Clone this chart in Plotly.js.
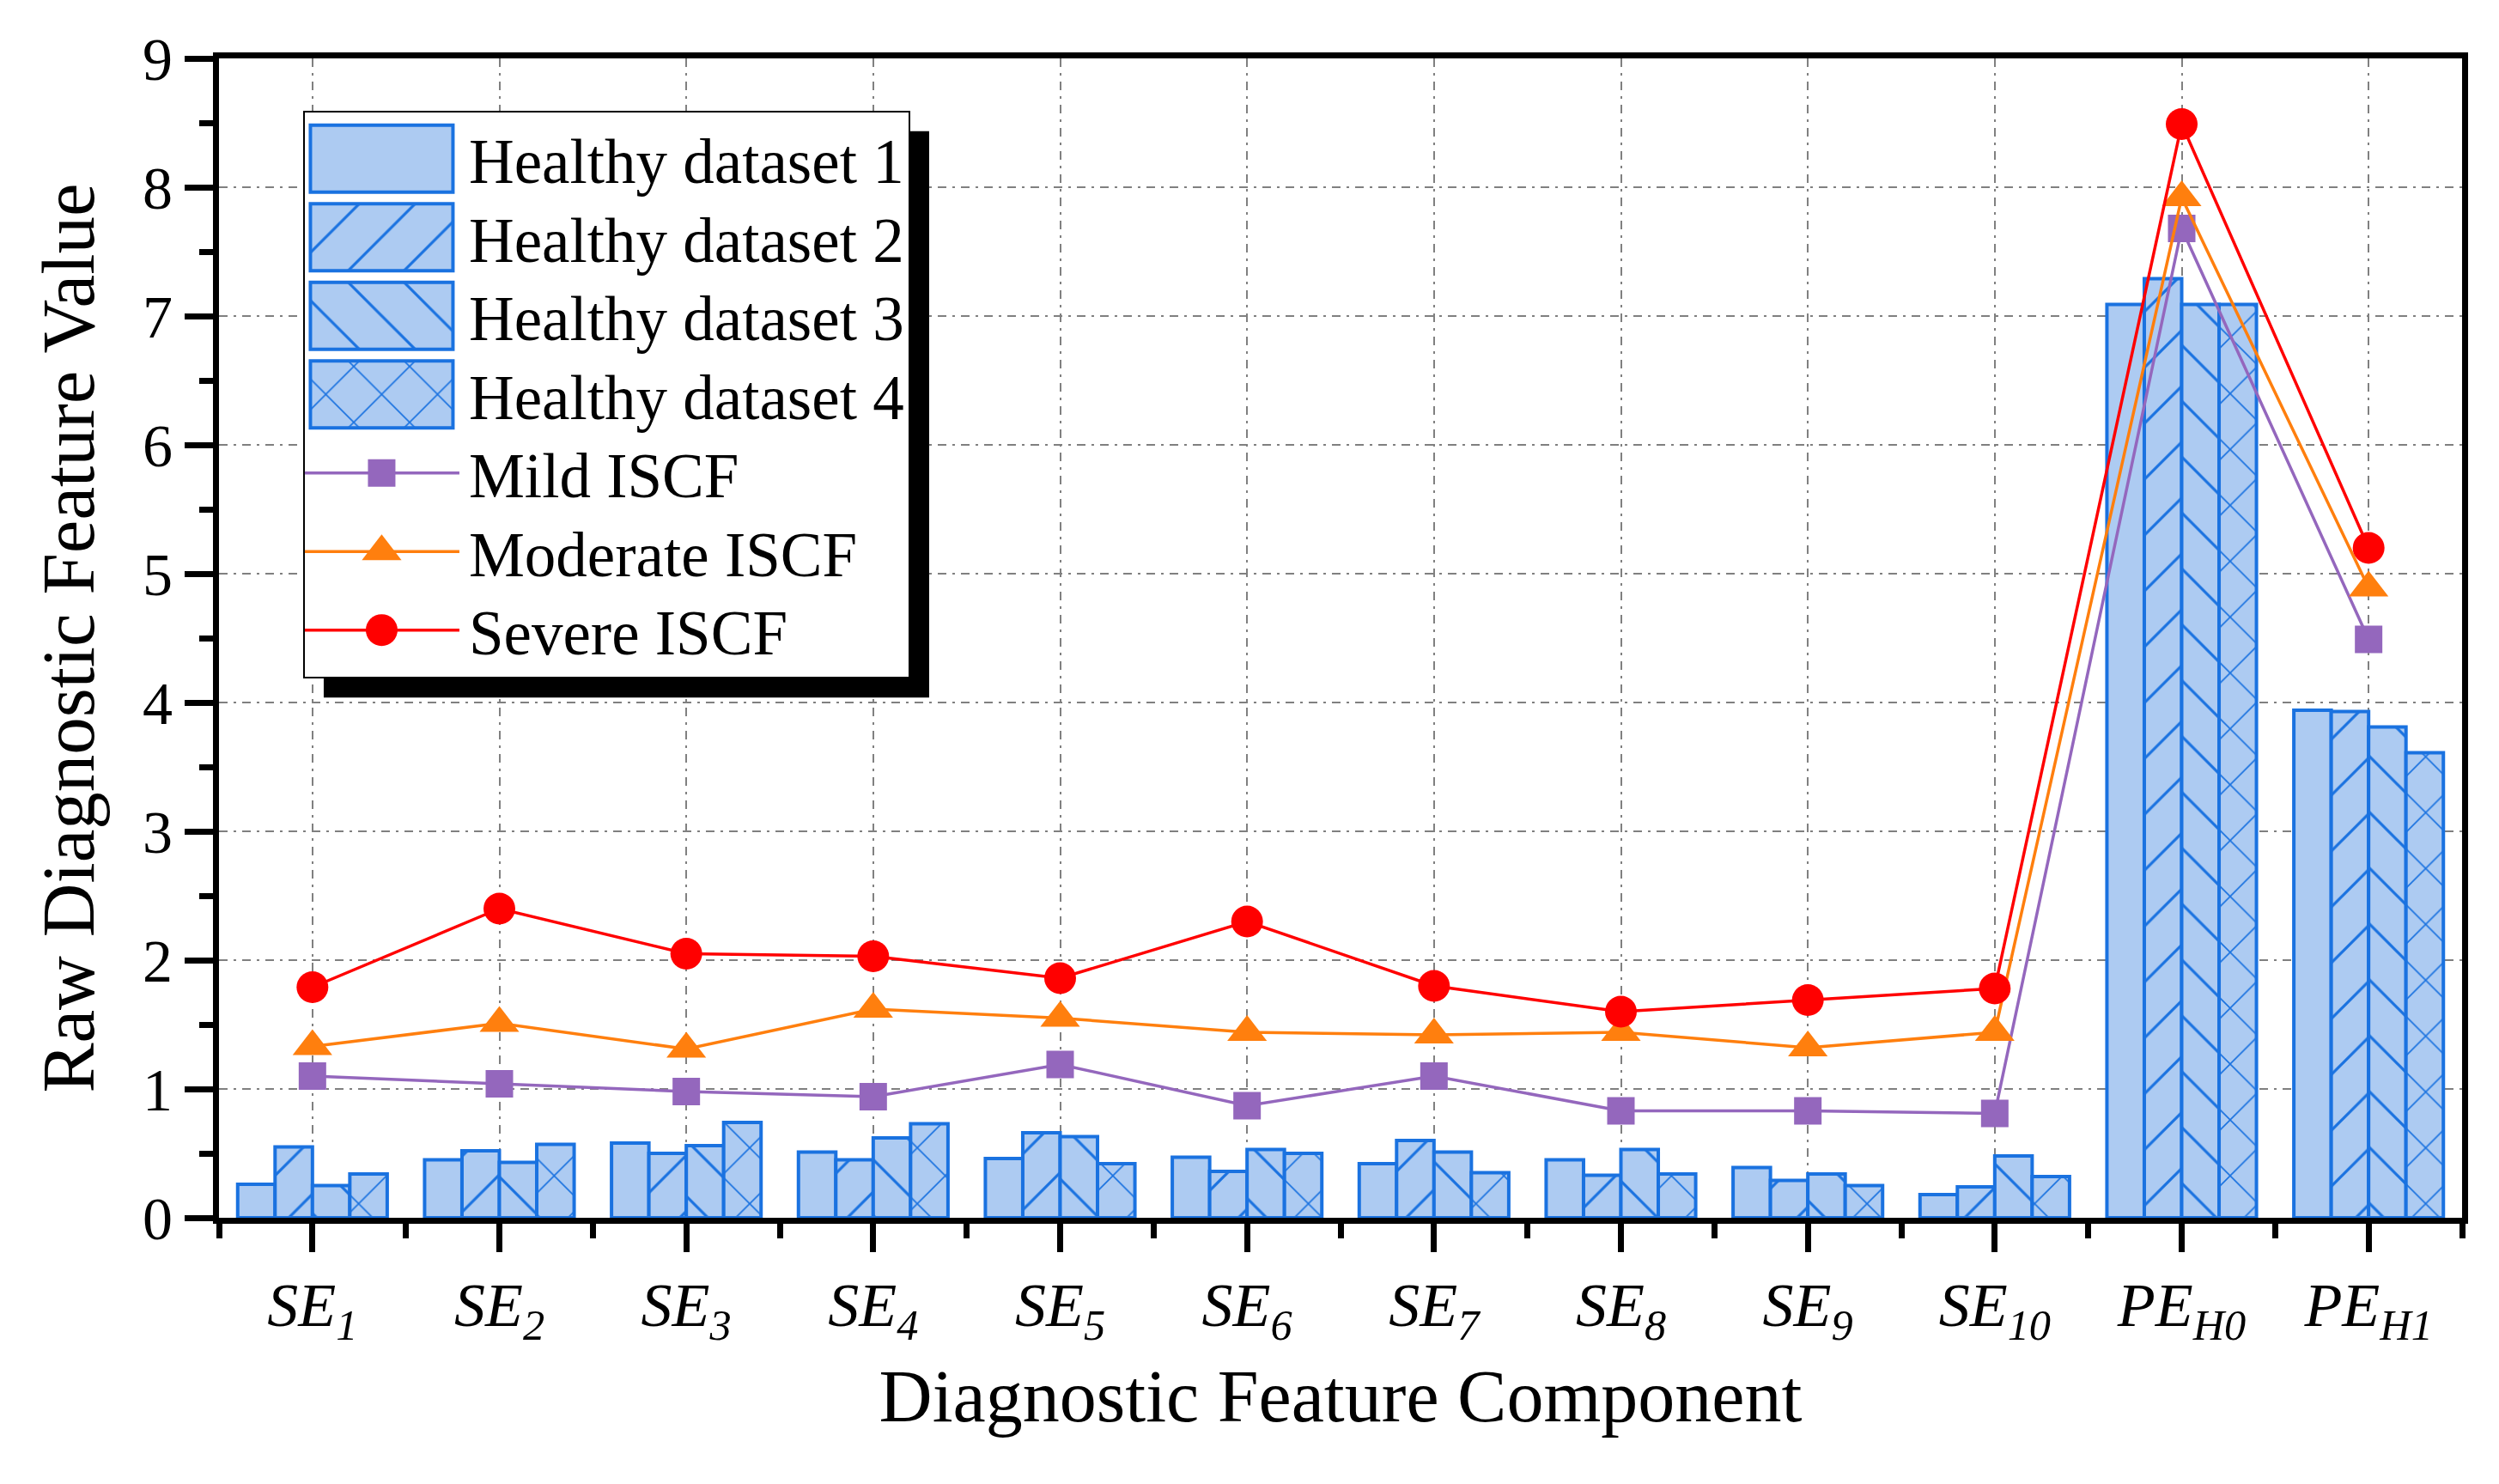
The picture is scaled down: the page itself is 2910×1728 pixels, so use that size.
<!DOCTYPE html>
<html>
<head>
<meta charset="utf-8">
<script src="https://cdn.plot.ly/plotly-3.0.1.min.js"></script>
<style>html,body{margin:0;padding:0;background:#fff}</style>
</head>
<body>
<div id="chart" style="width:2910px;height:1728px"></div>
<script>
// feature components (x axis)
var categories = ['SE1', 'SE2', 'SE3', 'SE4', 'SE5', 'SE6', 'SE7', 'SE8', 'SE9', 'SE10', 'PEH0', 'PEH1'];
var tickLabels = ['<i>SE<sub>1</sub></i>', '<i>SE<sub>2</sub></i>', '<i>SE<sub>3</sub></i>', '<i>SE<sub>4</sub></i>',
    '<i>SE<sub>5</sub></i>', '<i>SE<sub>6</sub></i>', '<i>SE<sub>7</sub></i>', '<i>SE<sub>8</sub></i>',
    '<i>SE<sub>9</sub></i>', '<i>SE<sub>10</sub></i>', '<i>PE<sub>H0</sub></i>', '<i>PE<sub>H1</sub></i>'];

// healthy datasets (bars)
var healthy1 = [0.26, 0.45, 0.58, 0.51, 0.46, 0.47, 0.42, 0.45, 0.39, 0.18, 7.09, 3.94];
var healthy2 = [0.55, 0.52, 0.50, 0.45, 0.66, 0.36, 0.60, 0.33, 0.29, 0.24, 7.29, 3.93];
var healthy3 = [0.25, 0.43, 0.56, 0.62, 0.63, 0.53, 0.51, 0.53, 0.34, 0.48, 7.09, 3.81];
var healthy4 = [0.34, 0.57, 0.74, 0.73, 0.42, 0.50, 0.35, 0.34, 0.25, 0.32, 7.09, 3.61];

// fault levels (lines)
var mild = [1.10, 1.04, 0.98, 0.94, 1.19, 0.87, 1.10, 0.83, 0.83, 0.81, 7.68, 4.49];
var moderate = [1.33, 1.51, 1.31, 1.62, 1.55, 1.44, 1.42, 1.44, 1.32, 1.44, 7.92, 4.89];
var severe = [1.79, 2.40, 2.05, 2.03, 1.86, 2.30, 1.80, 1.60, 1.69, 1.78, 8.49, 5.20];

var xPos = categories.map(function (c, i) { return i + 1; });

var barFill = '#adcbf2';
var barLine = '#1a72e0';
var font = '"Liberation Serif", "Times New Roman", serif';

function barTrace(name, values, shape) {
    return {
        x: xPos,
        y: values,
        name: name,
        type: 'bar',
        marker: {
            color: barFill,
            line: {color: barLine, width: 4},
            pattern: {shape: shape, fgcolor: barLine, bgcolor: barFill, size: 46, solidity: 0.07}
        }
    };
}

function lineTrace(name, values, color, symbol, size) {
    return {
        x: xPos,
        y: values,
        name: name,
        type: 'scatter',
        mode: 'lines+markers',
        line: {color: color, width: 3.5},
        marker: {color: color, symbol: symbol, size: size}
    };
}

var data = [
    barTrace('Healthy dataset 1', healthy1, ''),
    barTrace('Healthy dataset 2', healthy2, '/'),
    barTrace('Healthy dataset 3', healthy3, '\\'),
    barTrace('Healthy dataset 4', healthy4, 'x'),
    lineTrace('Mild ISCF', mild, '#9467bd', 'square', 32),
    lineTrace('Moderate ISCF', moderate, '#ff7f0e', 'triangle-up', 40),
    lineTrace('Severe ISCF', severe, '#ff0000', 'circle', 37)
];

var gridDash = '10px,7px,3px,7px';
var margin = {l: 255, r: 43, t: 68, b: 310};
var rowStep = 91.5;   // legend row spacing in px

var layout = {
    width: 2910,
    height: 1728,
    margin: margin,
    paper_bgcolor: '#fff',
    plot_bgcolor: '#fff',
    font: {family: font, color: '#000'},
    barmode: 'group',
    bargap: 0.2,
    bargroupgap: 0,
    showlegend: true,
    legend: {
        x: 0.0375, y: 0.955, xanchor: 'left', yanchor: 'top',
        bgcolor: '#fff', bordercolor: '#000', borderwidth: 2,
        font: {family: font, size: 73, color: '#000'},
        itemwidth: 181
    },
    xaxis: {
        range: [0.5, 12.5],
        tickmode: 'array',
        tickvals: xPos,
        ticktext: tickLabels,
        tickfont: {family: font, size: 72},
        ticks: 'outside', ticklen: 33, tickwidth: 7, tickcolor: '#000',
        minor: {tick0: 0.5, dtick: 1, ticks: 'outside', ticklen: 17, tickwidth: 7, tickcolor: '#000', showgrid: false},
        showline: true, linewidth: 7, linecolor: '#000', mirror: true,
        showgrid: true, gridcolor: '#808080', gridwidth: 2, griddash: gridDash,
        zeroline: false,
        title: {text: 'Diagnostic Feature Component', font: {family: font, size: 86}, standoff: 28}
    },
    yaxis: {
        range: [0, 9],
        dtick: 1,
        tickfont: {family: font, size: 70},
        ticks: 'outside', ticklen: 33, tickwidth: 7, tickcolor: '#000',
        minor: {dtick: 0.5, ticks: 'outside', ticklen: 16, tickwidth: 7, tickcolor: '#000', showgrid: false},
        showline: true, linewidth: 7, linecolor: '#000', mirror: true,
        showgrid: true, gridcolor: '#808080', gridwidth: 2, griddash: gridDash,
        zeroline: false,
        title: {text: 'Raw Diagnostic Feature Value', font: {family: font, size: 87}, standoff: 30}
    }
};

function readTranslate(el) {
    var m = /translate\(\s*([-\d.]+)[ ,]*([-\d.]*)/.exec(el.getAttribute('transform') || '');
    return m ? [parseFloat(m[1]), parseFloat(m[2] || 0)] : [0, 0];
}

// legend rows are a bit tighter than plotly's default line height
function legendShrink(gd) {
    var items = gd.querySelectorAll('.legend .traces');
    var first = readTranslate(items[0])[1];
    var last = readTranslate(items[items.length - 1])[1];
    var step = (last - first) / (items.length - 1);
    return {first: first, f: rowStep / step, cut: (step - rowStep) * (items.length - 1)};
}

// make legend swatches look like the big Origin-style ones
function styleLegend(gd, shrink) {
    var items = gd.querySelectorAll('.legend .traces');
    var barTraces = gd.querySelectorAll('.barlayer .trace');
    var bg = gd.querySelector('.legend rect.bg');
    bg.setAttribute('height', parseFloat(bg.getAttribute('height')) - shrink.cut);
    items.forEach(function (item, i) {
        var tr = readTranslate(item);
        item.setAttribute('transform', 'translate(' + tr[0] + ',' + (shrink.first + (tr[1] - shrink.first) * shrink.f) + ')');
        var trace = gd._fullData[i];
        var layers = item.querySelector('g.layers');
        if (layers) layers.setAttribute('transform', 'translate(-6,0)');
        if (trace.type === 'bar') {
            item.querySelectorAll('.legendpoints path').forEach(function (p) {
                p.setAttribute('d', 'M83,39H-83V-39H83Z');
                var mainBar = barTraces[i] && barTraces[i].querySelector('path');
                if (mainBar && mainBar.style.fill) p.style.fill = mainBar.style.fill;
                p.style.strokeWidth = '4px';
            });
        } else {
            var k = trace.marker.size / 16;
            item.querySelectorAll('.legendpoints path.scatterpts').forEach(function (p) {
                var t = p.getAttribute('transform') || '';
                p.setAttribute('transform', t + ' scale(' + k + ')');
            });
        }
    });
}

var shrink;
Plotly.newPlot('chart', data, layout, {staticPlot: true}).then(function (gd) {
    // drop shadow behind the legend box, offset 24px
    shrink = legendShrink(gd);
    var leg = gd.querySelector('.legend');
    var bg = leg.querySelector('rect.bg');
    var pos = readTranslate(leg);
    var lx = pos[0], ly = pos[1];
    var w = parseFloat(bg.getAttribute('width'));
    var h = parseFloat(bg.getAttribute('height')) - shrink.cut;
    var pw = 2910 - margin.l - margin.r, ph = 1728 - margin.t - margin.b;
    var off = 24;
    var shadow = {
        type: 'rect', xref: 'paper', yref: 'paper', layer: 'above',
        x0: (lx + off - margin.l) / pw,
        x1: (lx + w + off - margin.l) / pw,
        y0: (margin.t + ph - (ly + h + off)) / ph,
        y1: (margin.t + ph - (ly + off)) / ph,
        fillcolor: '#000', line: {width: 0}
    };
    return Plotly.relayout(gd, {shapes: [shadow]});
}).then(function (gd) {
    styleLegend(gd, shrink);
});
</script>
</body>
</html>
